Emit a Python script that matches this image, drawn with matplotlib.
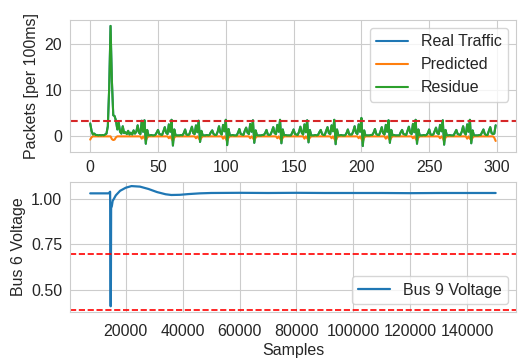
import matplotlib
matplotlib.use('Agg')
import matplotlib.pyplot as plt
import seaborn as sns
import numpy as np

# top panel: packets per 100 ms, samples 0..299
real_traffic = [
    2.8, 1.2, 0.4, 0.6, 0.3, 0.3, 0.2, 0.3, 0.2, 0.3, 0.2, 0.4, 0.6, 2.2, 10.5, 24.0, 12.0, 4.6, 4.4, 3.4,
    1.5, 3.0, 1.0, 0.6, 2.2, 0.7, 0.9, 0.5, 1.2, 0.4, 0.8, 0.4, 1.3, 0.6, 1.0, 2.4, 0.8, 0.5, 3.4, 1.0,
    3.5, -1.6, 1.4, 0.2, 0.2, 0.3, 0.2, 0.2, 0.3, 0.8, 1.4, 0.5, 0.4, 0.3, 1.1, 2.0, 0.8, 0.5, 2.6, 1.0,
    3.6, -2.0, 1.5, 0.2, 0.2, 0.2, 0.2, 0.3, 0.2, 0.7, 1.5, 0.4, 0.3, 0.4, 1.2, 2.1, 0.7, 0.5, 2.4, 0.9,
    3.4, -1.2, 1.2, 0.2, 0.2, 0.2, 0.3, 0.2, 0.3, 0.9, 1.3, 0.5, 0.3, 0.3, 1.0, 2.2, 0.8, 0.4, 2.5, 1.1,
    3.6, -1.9, 1.6, 0.2, 0.2, 0.3, 0.2, 0.2, 0.2, 0.8, 1.6, 0.5, 0.4, 0.3, 1.2, 1.9, 0.8, 0.5, 2.7, 1.0,
    3.5, -1.4, 1.3, 0.2, 0.2, 0.2, 0.2, 0.3, 0.3, 0.7, 1.4, 0.4, 0.3, 0.4, 1.1, 2.0, 0.7, 0.5, 2.5, 1.0,
    3.6, -1.5, 1.5, 0.2, 0.3, 0.2, 0.2, 0.2, 0.2, 0.8, 1.5, 0.5, 0.4, 0.3, 1.0, 2.1, 0.8, 0.4, 2.6, 0.9,
    3.5, -1.3, 1.4, 0.2, 0.2, 0.2, 0.3, 0.2, 0.3, 0.9, 1.4, 0.5, 0.3, 0.3, 1.2, 2.0, 0.7, 0.5, 2.4, 1.1,
    3.6, -1.7, 1.5, 0.2, 0.2, 0.3, 0.2, 0.2, 0.2, 0.7, 1.5, 0.4, 0.4, 0.4, 1.1, 2.2, 0.8, 0.5, 2.6, 1.0,
    4.0, -2.1, 1.3, 0.2, 0.2, 0.2, 0.2, 0.3, 0.3, 0.8, 1.6, 0.5, 0.3, 0.3, 1.0, 2.0, 0.7, 0.4, 2.5, 1.0,
    3.5, -1.4, 1.4, 0.2, 0.3, 0.2, 0.2, 0.2, 0.2, 0.9, 1.4, 0.5, 0.4, 0.3, 1.2, 2.1, 0.8, 0.5, 2.7, 0.9,
    3.6, -1.6, 1.5, 0.2, 0.2, 0.2, 0.3, 0.2, 0.3, 0.7, 1.5, 0.4, 0.3, 0.4, 1.1, 1.9, 0.7, 0.5, 2.5, 1.1,
    3.5, -1.8, 1.4, 0.2, 0.2, 0.3, 0.2, 0.2, 0.2, 0.8, 1.4, 0.5, 0.4, 0.3, 1.0, 2.2, 0.8, 0.4, 2.6, 1.0,
    3.6, -1.5, 1.3, 0.2, 0.2, 0.2, 0.2, 0.3, 0.3, 0.9, 1.5, 0.5, 0.3, 0.3, 1.2, 2.0, 0.7, 0.5, 0.6, 2.4,
]
predicted = [
    -0.7, -0.2, 0.0, 0.0, 0.0, 0.0, 0.0, 0.0, 0.0, 0.0, 0.0, 0.0, 0.0, 0.0, 0.0, 0.0, -0.6, -0.8, -0.7, -0.2,
    0.0, 0.0, 0.0, 0.0, 0.0, 0.0, 0.0, 0.0, 0.0, 0.0, 0.0, 0.0, 0.0, 0.0, 0.0, 0.0, 0.0, 0.0, -0.5, 0.0,
    -0.4, -0.8, -0.3, 0.0, 0.0, 0.0, 0.0, 0.0, 0.0, 0.0, 0.0, 0.0, 0.0, 0.0, 0.0, 0.0, 0.0, 0.0, -0.4, 0.0,
    -0.5, -1.0, -0.3, 0.0, 0.0, 0.0, 0.0, 0.0, 0.0, 0.0, 0.0, 0.0, 0.0, 0.0, 0.0, 0.0, 0.0, 0.0, -0.4, 0.0,
    -0.4, -0.8, -0.3, 0.0, 0.0, 0.0, 0.0, 0.0, 0.0, 0.0, 0.0, 0.0, 0.0, 0.0, 0.0, 0.0, 0.0, 0.0, -0.5, 0.0,
    -0.5, -1.0, -0.3, 0.0, 0.0, 0.0, 0.0, 0.0, 0.0, 0.0, 0.0, 0.0, 0.0, 0.0, 0.0, 0.0, 0.0, 0.0, -0.4, 0.0,
    -0.4, -0.8, -0.3, 0.0, 0.0, 0.0, 0.0, 0.0, 0.0, 0.0, 0.0, 0.0, 0.0, 0.0, 0.0, 0.0, 0.0, 0.0, -0.4, 0.0,
    -0.5, -0.9, -0.3, 0.0, 0.0, 0.0, 0.0, 0.0, 0.0, 0.0, 0.0, 0.0, 0.0, 0.0, 0.0, 0.0, 0.0, 0.0, -0.5, 0.0,
    -0.4, -0.8, -0.3, 0.0, 0.0, 0.0, 0.0, 0.0, 0.0, 0.0, 0.0, 0.0, 0.0, 0.0, 0.0, 0.0, 0.0, 0.0, -0.4, 0.0,
    -0.5, -1.0, -0.3, 0.0, 0.0, 0.0, 0.0, 0.0, 0.0, 0.0, 0.0, 0.0, 0.0, 0.0, 0.0, 0.0, 0.0, 0.0, -0.4, 0.0,
    -0.5, -1.1, -0.3, 0.0, 0.0, 0.0, 0.0, 0.0, 0.0, 0.0, 0.0, 0.0, 0.0, 0.0, 0.0, 0.0, 0.0, 0.0, -0.5, 0.0,
    -0.4, -0.8, -0.3, 0.0, 0.0, 0.0, 0.0, 0.0, 0.0, 0.0, 0.0, 0.0, 0.0, 0.0, 0.0, 0.0, 0.0, 0.0, -0.4, 0.0,
    -0.5, -0.9, -0.3, 0.0, 0.0, 0.0, 0.0, 0.0, 0.0, 0.0, 0.0, 0.0, 0.0, 0.0, 0.0, 0.0, 0.0, 0.0, -0.4, 0.0,
    -0.4, -1.0, -0.3, 0.0, 0.0, 0.0, 0.0, 0.0, 0.0, 0.0, 0.0, 0.0, 0.0, 0.0, 0.0, 0.0, 0.0, 0.0, -0.5, 0.0,
    -0.5, -0.8, -0.3, 0.0, 0.0, 0.0, 0.0, 0.0, 0.0, 0.0, 0.0, 0.0, 0.0, 0.0, 0.0, 0.0, 0.0, 0.0, -0.3, -1.0,
]
residue = real_traffic  # residue curve sits on top of the real traffic
packet_threshold = 3.3

# bottom panel: bus voltage
volt_samples = [7500, 14000, 14500, 14650, 14750, 14850, 15100, 15400, 15800, 16500, 18000,
                20000, 22000, 25000, 28000, 31000, 34000, 36000, 39000, 42000, 46000,
                50000, 60000, 70000, 80000, 90000, 100000, 110000, 120000, 130000, 140000, 150000]
volt_values = [1.031, 1.031, 1.04, 0.41, 0.41, 0.95, 0.96, 0.99, 1.0, 1.02, 1.045,
               1.062, 1.071, 1.068, 1.055, 1.038, 1.026, 1.022, 1.023, 1.027, 1.031,
               1.033, 1.034, 1.033, 1.034, 1.033, 1.033, 1.033, 1.032, 1.033, 1.033, 1.033]
volt_limits = [0.7, 0.39]

sns.set_style('whitegrid')
plt.rcParams['font.family'] = ['Liberation Sans', 'DejaVu Sans']
plt.rcParams['font.size'] = 11.5

fig = plt.figure(figsize=(5.18, 3.62), dpi=100)
ax1 = fig.add_axes([0.135, 0.58, 0.861, 0.365])
ax2 = fig.add_axes([0.135, 0.138, 0.861, 0.359])

x = np.arange(len(real_traffic))
ax1.plot(x, real_traffic, color='#1f77b4', lw=1.5, label='Real Traffic')
ax1.plot(x, predicted, color='#ff7f0e', lw=1.5, label='Predicted')
ax1.plot(x, residue, color='#2ca02c', lw=1.5, label='Residue')
ax1.axhline(packet_threshold, color='#d62728', ls='--', lw=1.5)
ax1.set_ylabel('Packets [per 100ms]')
ax1.set_xticks([0, 50, 100, 150, 200, 250, 300])
ax1.set_yticks([0, 10, 20])
ax1.legend(loc='upper right')

ax2.plot(volt_samples, volt_values, color='#1f77b4', lw=1.6, label='Bus 9 Voltage')
for v in volt_limits:
    ax2.axhline(v, color='red', ls='--', lw=1.2)
ax2.set_ylim(0.378, 1.093)
ax2.set_yticks([0.5, 0.75, 1.0])
ax2.set_xticks([20000, 40000, 60000, 80000, 100000, 120000, 140000])
ax2.set_ylabel('Bus 6 Voltage')
ax2.set_xlabel('Samples', labelpad=3)
ax2.legend(loc='lower right')

for ax in (ax1, ax2):
    ax.tick_params(labelsize=11.5, pad=2)
ax2.tick_params(axis='x', pad=5)

plt.savefig('out.png', dpi=100)
